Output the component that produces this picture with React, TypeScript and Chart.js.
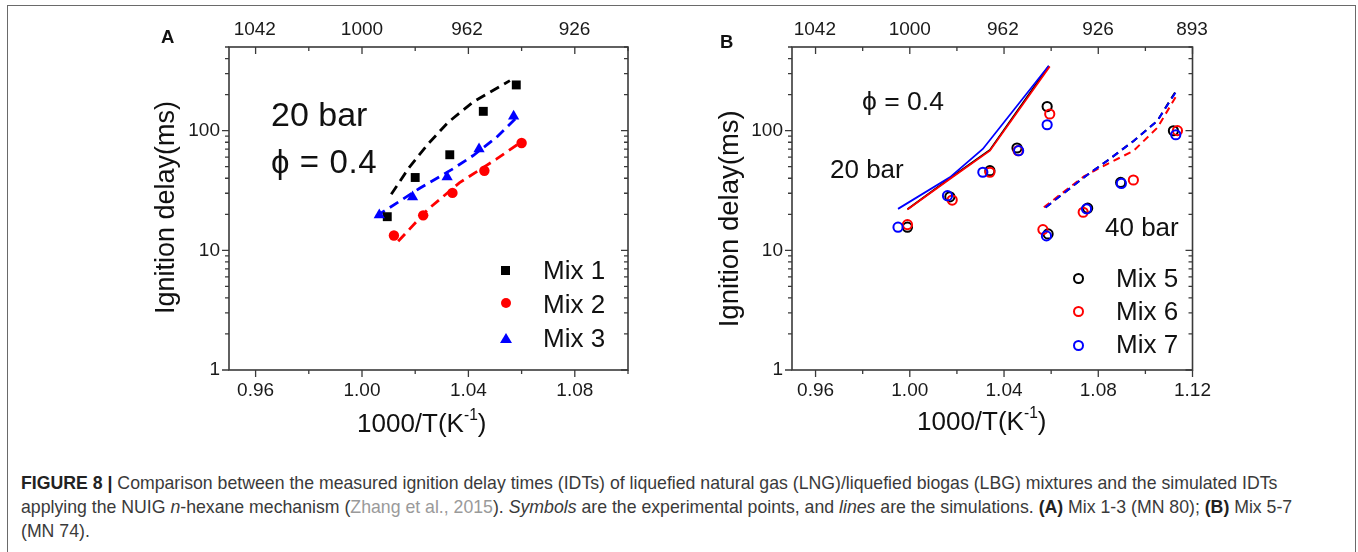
import React, { useEffect, useRef } from 'react';
import { Chart, registerables } from 'chart.js';

Chart.register(...registerables);

const FONT = '"Liberation Sans", Arial, Helvetica, sans-serif';
Chart.defaults.font.family = FONT;

// ---------------- Panel A ----------------
const xMajorA = [0.96, 1.0, 1.04, 1.08];
const xMinorA = [0.98, 1.02, 1.06, 1.1];
const topLabelsA = [1042, 1000, 962, 926];

const mix1X = [1.0095, 1.02, 1.033, 1.0456, 1.058];
const mix1Y = [19.1, 40.6, 62.9, 145, 241];
const mix2X = [1.012, 1.023, 1.034, 1.046, 1.06];
const mix2Y = [13.3, 19.6, 30.2, 46.2, 78.8];
const mix3X = [1.0065, 1.019, 1.032, 1.044, 1.057];
const mix3Y = [19.7, 27.9, 40.9, 70.2, 132];

const sim1X = [1.011, 1.0177, 1.0248, 1.0323, 1.0417, 1.0556];
const sim1Y = [29.4, 49.2, 77.2, 117, 173, 262];
const sim2X = [1.0136, 1.0248, 1.0367, 1.0505, 1.0605];
const sim2Y = [11.9, 22, 36.8, 57.8, 82.3];
const sim3X = [1.0054, 1.0217, 1.0342, 1.0418, 1.0506, 1.058];
const sim3Y = [19.3, 33, 48, 62, 88, 128];

// ---------------- Panel B ----------------
const xMajorB = [0.96, 1.0, 1.04, 1.08, 1.12];
const xMinorB = [0.98, 1.02, 1.06, 1.1];
const topLabelsB = [1042, 1000, 962, 926, 893];

const mix5X = [0.999, 1.017, 1.034, 1.0455, 1.0583, 1.0587, 1.0755, 1.0895, 1.1119];
const mix5Y = [15.6, 28, 46.3, 71.6, 159, 13.7, 22.5, 36.9, 99.8];
const mix6X = [0.999, 1.018, 1.034, 1.046, 1.0594, 1.0565, 1.0736, 1.0949, 1.1136];
const mix6Y = [16.4, 26.3, 44.9, 68, 137.7, 14.9, 20.8, 38.7, 100];
const mix7X = [0.995, 1.016, 1.031, 1.0462, 1.0583, 1.058, 1.075, 1.0898, 1.1129];
const mix7Y = [15.6, 28.6, 44.9, 68, 112, 13.2, 22.2, 36.2, 92.4];

const sim20Mix5X = [0.999, 1.017, 1.034, 1.059];
const sim20Mix5Y = [22, 40, 69, 346];
const sim20Mix6X = [0.999, 1.017, 1.034, 1.0594];
const sim20Mix6Y = [21.9, 39.5, 68, 343];
const sim20Mix7X = [0.995, 1.017, 1.031, 1.059];
const sim20Mix7Y = [22.2, 40.7, 70.3, 349];

const sim40Mix5X = [1.0576, 1.0739, 1.0838, 1.095, 1.1051, 1.113];
const sim40Mix5Y = [22.8, 40.7, 56, 82, 121, 215];
const sim40Mix6X = [1.0569, 1.0739, 1.0838, 1.095, 1.1051, 1.1136];
const sim40Mix6Y = [22.9, 41.5, 52.6, 67.9, 106, 202];
const sim40Mix7X = [1.0576, 1.0739, 1.0838, 1.095, 1.1051, 1.1129];
const sim40Mix7Y = [22.8, 40.7, 56, 82, 121, 210];

const yMajor = [1, 10, 100];
const yMin = 1;
const yMax = 500;

const BLACK = '#000000';
const RED = '#ff0000';
const BLUE = '#0000ff';

const pts = (xs: number[], ys: number[]) => xs.map((x, i) => ({ x, y: ys[i] }));

const framePlugin = {
  id: 'frame',
  afterDraw(chart: any, _args: any, opts: any) {
    const { ctx, chartArea } = chart;
    const { left, right, top, bottom } = chartArea;
    const sx = chart.scales.x;
    const sy = chart.scales.y;
    ctx.save();
    ctx.strokeStyle = '#3a3a3a';
    ctx.lineWidth = 1.6;
    ctx.strokeRect(left, top, right - left, bottom - top);
    ctx.lineWidth = 1.3;
    ctx.beginPath();
    const major = 7;
    const minor = 4;
    (opts.xMajor || []).forEach((v: number) => {
      const p = sx.getPixelForValue(v);
      ctx.moveTo(p, bottom); ctx.lineTo(p, bottom + major);
      ctx.moveTo(p, top); ctx.lineTo(p, top + major);
    });
    (opts.xMinor || []).forEach((v: number) => {
      const p = sx.getPixelForValue(v);
      ctx.moveTo(p, bottom); ctx.lineTo(p, bottom + minor);
      ctx.moveTo(p, top); ctx.lineTo(p, top + minor);
    });
    yMajor.forEach((d) => {
      const p = sy.getPixelForValue(d);
      ctx.moveTo(left - major, p); ctx.lineTo(left, p);
      ctx.moveTo(right - major, p); ctx.lineTo(right, p);
      for (let k = 2; k <= 9; k++) {
        const v = k * d;
        if (v > yMax) break;
        const q = sy.getPixelForValue(v);
        ctx.moveTo(left - minor, q); ctx.lineTo(left, q);
        ctx.moveTo(right - minor, q); ctx.lineTo(right, q);
      }
    });
    ctx.stroke();
    ctx.restore();
  },
};

function makeConfig(p: {
  xMin: number; xMax: number; xMajor: number[]; xMinor: number[]; topLabels: number[];
  leftW: number; rightPad: number; datasets: any[];
}) {
  const tickFont = { family: FONT, size: 19 };
  return {
    type: 'scatter',
    data: { datasets: p.datasets },
    plugins: [framePlugin],
    options: {
      animation: false,
      responsive: false,
      maintainAspectRatio: false,
      layout: { padding: { left: 0, right: p.rightPad, top: 0, bottom: 0 } },
      plugins: {
        legend: { display: false },
        tooltip: { enabled: false },
        frame: { xMajor: p.xMajor, xMinor: p.xMinor },
      },
      scales: {
        x: {
          type: 'linear', position: 'bottom', min: p.xMin, max: p.xMax,
          afterBuildTicks: (s: any) => { s.ticks = p.xMajor.map((v) => ({ value: v })); },
          afterFit: (s: any) => { s.height = 70; },
          grid: { display: false, drawTicks: false },
          border: { display: false },
          ticks: {
            font: tickFont, color: '#1a1a1a', padding: 9, maxRotation: 0, autoSkip: false,
            callback: (v: any) => Number(v).toFixed(2),
          },
        },
        xTop: {
          type: 'linear', position: 'top', min: p.xMin, max: p.xMax,
          afterBuildTicks: (s: any) => { s.ticks = p.topLabels.map((t) => ({ value: 1000 / t })); },
          afterFit: (s: any) => { s.height = 37; },
          grid: { display: false, drawTicks: false },
          border: { display: false },
          ticks: {
            font: tickFont, color: '#1a1a1a', padding: 6, maxRotation: 0, autoSkip: false,
            callback: (_v: any, i: number) => String(p.topLabels[i]),
          },
        },
        y: {
          type: 'logarithmic', position: 'left', min: yMin, max: yMax,
          afterBuildTicks: (s: any) => { s.ticks = yMajor.map((v) => ({ value: v })); },
          afterFit: (s: any) => { s.width = p.leftW; },
          grid: { display: false, drawTicks: false },
          border: { display: false },
          ticks: {
            font: tickFont, color: '#1a1a1a', padding: 9, autoSkip: false,
            callback: (v: any) => String(v),
          },
        },
      },
    },
  };
}

const dashLine = (label: string, xs: number[], ys: number[], color: string, width: number, dash: number[]) => ({
  label, type: 'line', data: pts(xs, ys), borderColor: color, borderWidth: width, borderDash: dash,
  pointRadius: 0, fill: false, tension: 0, showLine: true,
});

const solidLine = (label: string, xs: number[], ys: number[], color: string) => ({
  label, type: 'line', data: pts(xs, ys), borderColor: color, borderWidth: 1.8,
  pointRadius: 0, fill: false, tension: 0, showLine: true,
});

const filled = (label: string, xs: number[], ys: number[], color: string, style: string, r: number) => ({
  label, data: pts(xs, ys), pointStyle: style, pointRadius: r, backgroundColor: color,
  borderColor: color, borderWidth: 0, showLine: false,
});

const hollow = (label: string, xs: number[], ys: number[], color: string) => ({
  label, data: pts(xs, ys), pointStyle: 'circle', pointRadius: 4.6, backgroundColor: 'rgba(0,0,0,0)',
  borderColor: color, borderWidth: 2, showLine: false,
});

const configA = () => makeConfig({
  xMin: 0.95, xMax: 1.1, xMajor: xMajorA, xMinor: xMinorA, topLabels: topLabelsA,
  leftW: 89, rightPad: 32,
  datasets: [
    filled('Mix 3', mix3X, mix3Y, BLUE, 'triangle', 6.5),
    filled('Mix 2', mix2X, mix2Y, RED, 'circle', 5.2),
    filled('Mix 1', mix1X, mix1Y, BLACK, 'rect', 6.3),
    dashLine('Mix 3 sim', sim3X, sim3Y, BLUE, 2.8, [10, 6]),
    dashLine('Mix 2 sim', sim2X, sim2Y, RED, 2.8, [10, 6]),
    dashLine('Mix 1 sim', sim1X, sim1Y, BLACK, 2.8, [10, 6]),
  ],
});

const configB = () => makeConfig({
  xMin: 0.95, xMax: 1.12, xMajor: xMajorB, xMinor: xMinorB, topLabels: topLabelsB,
  leftW: 92, rightPad: 27,
  datasets: [
    hollow('Mix 7', mix7X, mix7Y, BLUE),
    hollow('Mix 6', mix6X, mix6Y, RED),
    hollow('Mix 5', mix5X, mix5Y, BLACK),
    solidLine('Mix 6 20 bar', sim20Mix6X, sim20Mix6Y, RED),
    solidLine('Mix 7 20 bar', sim20Mix7X, sim20Mix7Y, BLUE),
    solidLine('Mix 5 20 bar', sim20Mix5X, sim20Mix5Y, BLACK),
    dashLine('Mix 7 40 bar', sim40Mix7X, sim40Mix7Y, BLUE, 2, [7, 5]),
    dashLine('Mix 6 40 bar', sim40Mix6X, sim40Mix6Y, RED, 2, [7, 5]),
    dashLine('Mix 5 40 bar', sim40Mix5X, sim40Mix5Y, BLACK, 2, [7, 5]),
  ],
});

function ChartCanvas({ make, left, top, width, height }: any) {
  const ref = useRef<HTMLCanvasElement | null>(null);
  useEffect(() => {
    if (!ref.current) return;
    const chart = new Chart(ref.current, make() as any);
    return () => chart.destroy();
  }, []);
  return (
    <canvas
      ref={ref}
      width={width}
      height={height}
      style={{ position: 'absolute', left, top, width, height }}
    />
  );
}

function Txt({ x, y, size, children, bold, style }: any) {
  return (
    <div
      style={{
        position: 'absolute', left: x, top: y, fontSize: size, lineHeight: `${size}px`,
        fontFamily: FONT, fontWeight: bold ? 'bold' : 'normal', color: '#111', whiteSpace: 'nowrap',
        ...style,
      }}
    >
      {children}
    </div>
  );
}

function VTitle({ cx, cy, size, children }: any) {
  const w = 320;
  return (
    <div
      style={{
        position: 'absolute', left: cx - w / 2, top: cy - size / 2, width: w, height: size,
        fontSize: size, lineHeight: `${size}px`, fontFamily: FONT, color: '#111', textAlign: 'center',
        whiteSpace: 'nowrap', transform: 'rotate(-90deg)', transformOrigin: '50% 50%',
      }}
    >
      {children}
    </div>
  );
}

const sup = { fontSize: '0.6em', verticalAlign: '0.75em', lineHeight: 0 } as any;

function Marker({ cx, cy, kind, color }: any) {
  if (kind === 'square') {
    return <div style={{ position: 'absolute', left: cx - 4.5, top: cy - 4.5, width: 9, height: 9, background: color }} />;
  }
  if (kind === 'dot') {
    return <div style={{ position: 'absolute', left: cx - 5, top: cy - 5, width: 10, height: 10, borderRadius: '50%', background: color }} />;
  }
  if (kind === 'tri') {
    return (
      <div style={{
        position: 'absolute', left: cx - 6, top: cy - 5, width: 0, height: 0,
        borderLeft: '6px solid transparent', borderRight: '6px solid transparent', borderBottom: `10px solid ${color}`,
      }} />
    );
  }
  return (
    <div style={{
      position: 'absolute', left: cx - 5.5, top: cy - 5.5, width: 11, height: 11, borderRadius: '50%',
      border: `2px solid ${color}`, boxSizing: 'border-box',
    }} />
  );
}

export default function App() {
  const bold = { color: '#222' };
  return (
    <div style={{ position: 'absolute', left: 0, top: 0, width: 1358, height: 552, overflow: 'hidden', background: '#fff' }}>
      <div style={{ position: 'absolute', left: 7, top: 5, width: 1349, height: 600, border: '1.5px solid #6a6a6a', boxSizing: 'border-box' }} />

      <ChartCanvas make={configA} left={140} top={10} width={520} height={430} />
      <ChartCanvas make={configB} left={700} top={10} width={520} height={430} />

      {/* Panel A texts */}
      <Txt x={161} y={27.6} size={18.5} bold>A</Txt>
      <Txt x={271} y={97.3} size={34}>20 bar</Txt>
      <Txt x={271} y={145} size={33} style={{ letterSpacing: '0.6px' }}>ϕ = 0.4</Txt>
      <VTitle cx={165.3} cy={207.5} size={27}>Ignition delay(ms)</VTitle>
      <Txt x={357} y={409.7} size={26}>1000/T(K<span style={sup}>-1</span>)</Txt>
      <Marker cx={505.7} cy={270} kind="square" color={BLACK} />
      <Marker cx={505.7} cy={303.3} kind="dot" color={RED} />
      <Marker cx={505.7} cy={338.3} kind="tri" color={BLUE} />
      <Txt x={543} y={257.3} size={26}>Mix 1</Txt>
      <Txt x={543} y={290.7} size={26}>Mix 2</Txt>
      <Txt x={543} y={324.7} size={26}>Mix 3</Txt>

      {/* Panel B texts */}
      <Txt x={720} y={32.6} size={18.5} bold>B</Txt>
      <Txt x={862} y={88} size={26.5}>ϕ = 0.4</Txt>
      <Txt x={830} y={156.3} size={26}>20 bar</Txt>
      <Txt x={1105} y={213.6} size={26}>40 bar</Txt>
      <VTitle cx={728.9} cy={218.3} size={27.5}>Ignition delay(ms)</VTitle>
      <Txt x={917} y={408} size={26}>1000/T(K<span style={sup}>-1</span>)</Txt>
      <Marker cx={1078} cy={278.3} kind="ring" color={BLACK} />
      <Marker cx={1078} cy={311.7} kind="ring" color={RED} />
      <Marker cx={1078} cy={345} kind="ring" color={BLUE} />
      <Txt x={1116} y={264.7} size={26}>Mix 5</Txt>
      <Txt x={1116} y={298} size={26}>Mix 6</Txt>
      <Txt x={1116} y={331.3} size={26}>Mix 7</Txt>

      {/* Caption */}
      <div style={{ position: 'absolute', left: 21, top: 471, fontFamily: FONT, fontSize: 17.7, lineHeight: '24px', color: '#3a3a3a', whiteSpace: 'nowrap' }}>
        <b style={bold}>FIGURE 8 |</b> Comparison between the measured ignition delay times (IDTs) of liquefied natural gas (LNG)/liquefied biogas (LBG) mixtures and the simulated IDTs<br />
        applying the NUIG <i>n</i>-hexane mechanism (<span style={{ color: '#9a9a9a' }}>Zhang et al., 2015</span>). <i>Symbols</i> are the experimental points, and <i>lines</i> are the simulations. <b style={bold}>(A)</b> Mix 1-3 (MN 80); <b style={bold}>(B)</b> Mix 5-7<br />
        (MN 74).
      </div>
    </div>
  );
}
